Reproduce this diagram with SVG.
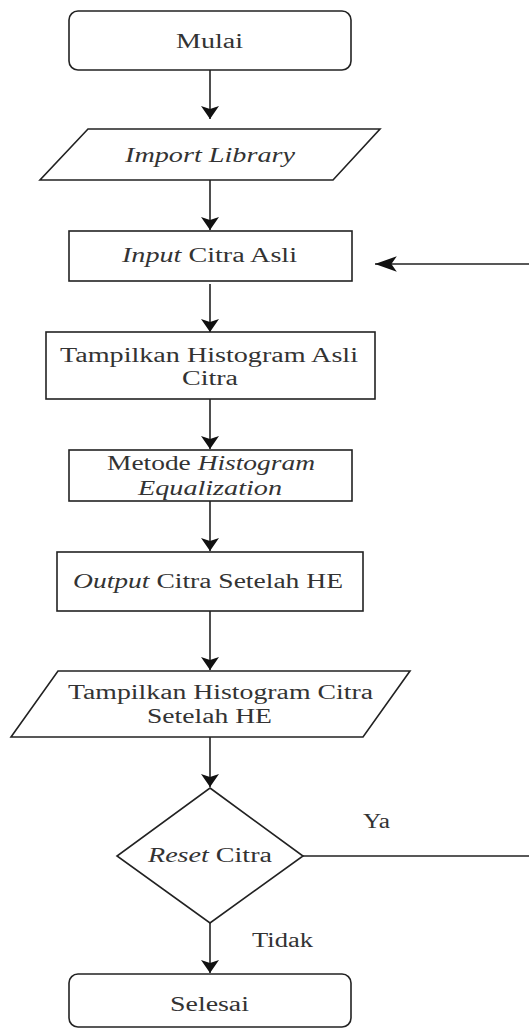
<svg xmlns="http://www.w3.org/2000/svg" width="529" height="1030" viewBox="0 0 529 1030">
<style>
.s{fill:#fff;stroke:#222;stroke-width:1.6}
.c{fill:none;stroke:#222;stroke-width:1.6}
text{font-family:'Liberation Serif','Times New Roman',serif;font-size:20.5px;fill:#333;text-anchor:middle}
.i{font-style:italic}
</style>
<defs>
<marker id="a" markerUnits="userSpaceOnUse" markerWidth="20" markerHeight="20" viewBox="-1 -10 16 20" refX="13" refY="0" orient="auto">
<path d="M0,-9 L13,0 L0,9 L3,0 z" fill="#111"/>
</marker>
<marker id="b" markerUnits="userSpaceOnUse" markerWidth="24" markerHeight="18" viewBox="-1 -8 22 16" refX="20" refY="0" orient="auto">
<path d="M0,-7 L20,0 L0,7 L5,0 z" fill="#111"/>
</marker>
</defs>
<rect width="529" height="1030" fill="#fff"/>
<g id="connectors">
<path class="c" d="M210,70 V119" marker-end="url(#a)"/>
<path class="c" d="M210,180 V230" marker-end="url(#a)"/>
<path class="c" d="M210,284 V332" marker-end="url(#a)"/>
<path class="c" d="M210,399 V449" marker-end="url(#a)"/>
<path class="c" d="M210,501 V551" marker-end="url(#a)"/>
<path class="c" d="M210,611 V670" marker-end="url(#a)"/>
<path class="c" d="M210,737 V787" marker-end="url(#a)"/>
<path class="c" d="M210,923 V973" marker-end="url(#a)"/>
<path class="c" d="M303,856 H533 V264 H375" marker-end="url(#b)"/>
<text x="376.5" y="828" textLength="27" lengthAdjust="spacingAndGlyphs">Ya</text>
<text x="282.5" y="947" textLength="61" lengthAdjust="spacingAndGlyphs">Tidak</text>
</g>
<g id="mulai">
<rect class="s" x="69" y="11" width="282" height="59" rx="9"/>
<text x="209.5" y="48" textLength="67" lengthAdjust="spacingAndGlyphs">Mulai</text>
</g>
<g id="import">
<polygon class="s" points="88,129 380,129 333,180 40,180"/>
<text class="i" x="210" y="162" textLength="170" lengthAdjust="spacingAndGlyphs">Import Library</text>
</g>
<g id="input">
<rect class="s" x="69" y="231" width="283" height="50"/>
<text x="209.5" y="262" textLength="175" lengthAdjust="spacingAndGlyphs"><tspan class="i">Input</tspan> Citra Asli</text>
</g>
<g id="histasli">
<rect class="s" x="46" y="332" width="329" height="67"/>
<text x="209" y="362" textLength="298" lengthAdjust="spacingAndGlyphs">Tampilkan Histogram Asli</text>
<text x="210" y="385" textLength="56" lengthAdjust="spacingAndGlyphs">Citra</text>
</g>
<g id="metode">
<rect class="s" x="69" y="450" width="283" height="51"/>
<text x="211" y="470" textLength="208" lengthAdjust="spacingAndGlyphs">Metode <tspan class="i">Histogram</tspan></text>
<text class="i" x="210" y="495" textLength="144" lengthAdjust="spacingAndGlyphs">Equalization</text>
</g>
<g id="output">
<rect class="s" x="57" y="552" width="306" height="59"/>
<text x="208" y="588" textLength="270" lengthAdjust="spacingAndGlyphs"><tspan class="i">Output</tspan> Citra Setelah HE</text>
</g>
<g id="histhe">
<polygon class="s" points="58,671 410,671 363,737 11,737"/>
<text x="220.5" y="699" textLength="305" lengthAdjust="spacingAndGlyphs">Tampilkan Histogram Citra</text>
<text x="209.5" y="723" textLength="125" lengthAdjust="spacingAndGlyphs">Setelah HE</text>
</g>
<g id="reset">
<polygon class="s" points="210,788 303,856 210,923 117,856"/>
<text x="210" y="862" textLength="124" lengthAdjust="spacingAndGlyphs"><tspan class="i">Reset</tspan> Citra</text>
</g>
<g id="selesai">
<rect class="s" x="69" y="974" width="282" height="53" rx="9"/>
<text x="209.5" y="1011" textLength="79" lengthAdjust="spacingAndGlyphs">Selesai</text>
</g>
</svg>
